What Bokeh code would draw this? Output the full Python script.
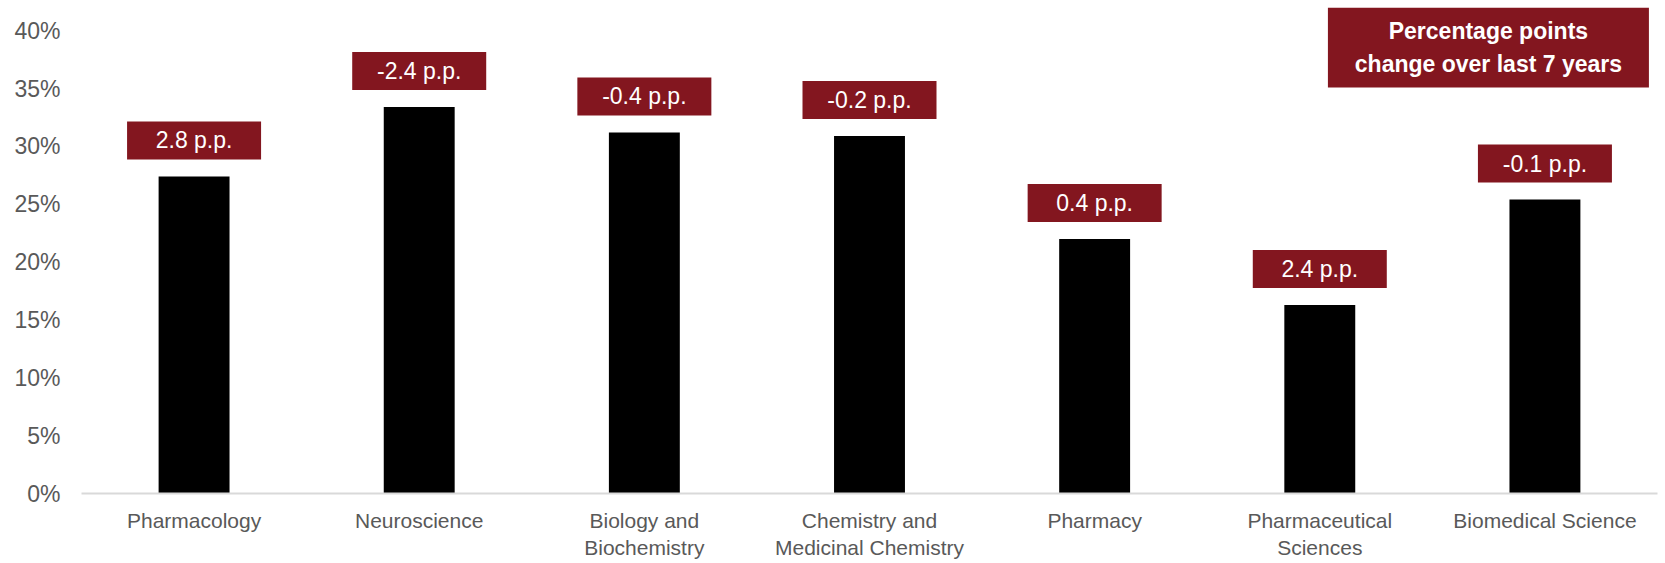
from bokeh.plotting import figure
from bokeh.models import ColumnDataSource, FixedTicker, NumeralTickFormatter, Range1d, FactorRange
from bokeh.transform import dodge
from bokeh.core.properties import value
from bokeh.embed import file_html
from bokeh.resources import INLINE

# Subject areas and their share (fraction) with the 7-year change in percentage points
categories = [
    "Pharmacology",
    "Neuroscience",
    "Biology and\nBiochemistry",
    "Chemistry and\nMedicinal Chemistry",
    "Pharmacy",
    "Pharmaceutical\nSciences",
    "Biomedical Science",
]
share = [0.274, 0.334, 0.312, 0.309, 0.220, 0.163, 0.254]
change_pp = [2.8, -2.4, -0.4, -0.2, 0.4, 2.4, -0.1]
y_ticks = [0.0, 0.05, 0.10, 0.15, 0.20, 0.25, 0.30, 0.35, 0.40]
legend_text = "Percentage points\nchange over last 7 years"

RED = "#83161F"
GREY = "#595959"
FONT = "Liberation Sans"

W, H = 1665, 563
TOP, BOTTOM, LEFT, RIGHT = 7, 70, 81, 8
Y_MAX = 0.42
px_per_unit = (H - TOP - BOTTOM) / Y_MAX

p = figure(
    width=W, height=H,
    x_range=FactorRange(*categories, range_padding=0),
    y_range=Range1d(0, Y_MAX),
    output_backend="svg", toolbar_location=None,
    min_border_top=TOP, min_border_bottom=BOTTOM,
    min_border_left=LEFT, min_border_right=RIGHT,
)
p.outline_line_color = None
p.xgrid.grid_line_color = None
p.ygrid.grid_line_color = None
p.background_fill_color = "white"
p.border_fill_color = "white"

# bars
src = ColumnDataSource(dict(
    cat=categories,
    share=share,
    label=[f"{c:.1f} p.p." for c in change_pp],
    label_y=[s + 36 / px_per_unit for s in share],
))
p.vbar(x="cat", top="share", width=0.315, source=src,
       fill_color="black", line_color=None)

# change labels in red boxes above each bar
p.rect(x="cat", y="label_y", width=134, height=38,
       width_units="screen", height_units="screen",
       source=src, fill_color=RED, line_color=None)
p.text(x="cat", y="label_y", text="label", source=src,
       text_align="center", text_baseline="middle",
       text_color="white", text_font=value(FONT), text_font_size="23px")

# explanatory box, top right
leg = ColumnDataSource(dict(cat=[categories[-1]], y=[(493 - 47) / px_per_unit], t=[legend_text]))
lx = dodge("cat", -0.251, range=p.x_range)
p.rect(x=lx, y="y", width=321, height=80, width_units="screen", height_units="screen",
       source=leg, fill_color=RED, line_color=None)
p.text(x=lx, y="y", text="t", source=leg, text_align="center", text_baseline="middle",
       text_color="white", text_font=value(FONT), text_font_size="23px",
       text_font_style="bold", text_line_height=1.27)

# axes
yax = p.yaxis[0]
yax.ticker = FixedTicker(ticks=y_ticks)
yax.formatter = NumeralTickFormatter(format="0%")
yax.axis_line_color = None
yax.major_tick_line_color = None
yax.minor_tick_line_color = None
yax.major_tick_out = 0
yax.major_label_standoff = 21
yax.major_label_text_color = GREY
yax.major_label_text_font = FONT
yax.major_label_text_font_size = "23px"

xax = p.xaxis[0]
xax.axis_line_color = "#D9D9D9"
xax.axis_line_width = 2
xax.major_tick_line_color = None
xax.minor_tick_line_color = None
xax.major_tick_out = 0
xax.major_label_standoff = 15
xax.major_label_text_color = GREY
xax.major_label_text_font = FONT
xax.major_label_text_font_size = "21px"

open("out.html", "w").write(file_html(p, INLINE))
